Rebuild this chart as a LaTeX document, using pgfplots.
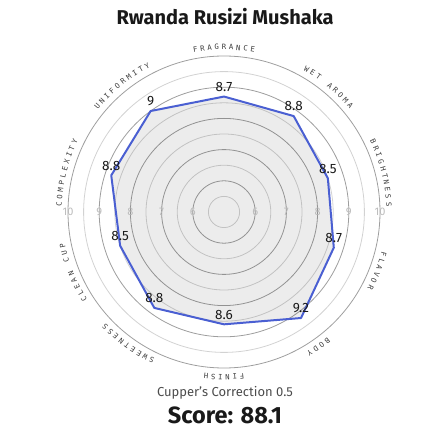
\documentclass[border=0pt]{standalone}
\usepackage{fontspec}
\setmainfont{Fira Sans}
\newfontfamily\monofont{DejaVu Sans Mono}
\usepackage{pgfplots}
\usepackage{pgfplotstable}
\pgfplotsset{compat=1.18}
\usepgfplotslibrary{polar}

\definecolor{lineblue}{HTML}{4A5FD2}
\definecolor{gridmaj}{HTML}{9E9E9E}
\definecolor{gridmin}{HTML}{D2D2D2}
\definecolor{ticklab}{HTML}{BBBBBB}
\definecolor{labcol}{HTML}{3C3C3C}

% angle of each attribute (degrees) and its score
\pgfplotstableread{
angle score
90  8.7
54  8.8
18  8.5
342 8.7
306 9.2
270 8.6
234 8.8
198 8.5
162 8.8
126 9.0
}\cupping

% letters set one by one along the outer ring, clockwise
\newcommand\arclabel[3]{%
  \foreach \ch [count=\i] in {#3}{%
    \pgfmathsetmacro\ang{#1+((#2+1)/2-\i)*2.5}%
    \node[rotate=\ang-90, font=\monofont\fontsize{7.3}{8}\selectfont,
      text=labcol, inner sep=0pt] at (\ang:165pt) {\ch};
  }}

\begin{document}
\begin{tikzpicture}
\path[use as bounding box] (0,0) rectangle (443pt,443pt);
\begin{polaraxis}[
  at={(224pt,231pt)}, anchor=center,
  scale only axis, width=312pt, height=312pt,
  xmin=0, xmax=360, ymin=0, ymax=5,
  xtick=\empty,
  ytick={1,2,3,4,5}, minor ytick={0.5,1.5,2.5,3.5,4.5},
  yticklabels={},
  xmajorgrids=false, ymajorgrids=true, yminorgrids=true,
  major grid style={draw=gridmaj, line width=0.8pt},
  minor grid style={draw=gridmin, line width=0.8pt},
  axis line style={draw=none},
  major tick length=0pt, minor tick length=0pt,
  clip=false,
  /pgf/number format/assume math mode=true,
]
\addplot[draw=lineblue, line width=2pt, line join=round,
  fill=black, fill opacity=0.075, mark=none]
  table[x=angle, y expr=\thisrow{score}-5] {\cupping} -- cycle;
\addplot[draw=none, mark=none, nodes near coords, point meta=explicit,
  every node near coord/.append style={
    font=\fontsize{13.5}{15}\selectfont, text=black!90, anchor=south, yshift=1.5pt}]
  table[x=angle, y expr=\thisrow{score}-5, meta=score] {\cupping};
\end{polaraxis}

\begin{scope}[shift={(224pt,231pt)}]
  \foreach \k/\t in {1/6,2/7,3/8,4/9,5/10}{
    \node[text=ticklab, font=\fontsize{11}{12}\selectfont] at (0:{31.2pt*\k}) {\t};
    \node[text=ticklab, font=\fontsize{11}{12}\selectfont] at (180:{31.2pt*\k}) {\t};
  }
  \arclabel{90}{9}{F,R,A,G,R,A,N,C,E}
  \arclabel{50}{9}{W,E,T,,A,R,O,M,A}
  \arclabel{14}{10}{B,R,I,G,H,T,N,E,S,S}
  \arclabel{-21}{6}{F,L,A,V,O,R}
  \arclabel{-55}{4}{B,O,D,Y}
  \arclabel{-90}{6}{F,I,N,I,S,H}
  \arclabel{-126}{9}{S,W,E,E,T,N,E,S,S}
  \arclabel{-158}{9}{C,L,E,A,N,,C,U,P}
  \arclabel{166}{10}{C,O,M,P,L,E,X,I,T,Y}
  \arclabel{129}{10}{U,N,I,F,O,R,M,I,T,Y}
\end{scope}

\node[font=\fontsize{20}{22}\selectfont\bfseries, text=black!90, anchor=base]
  at (225pt,418pt) {Rwanda Rusizi Mushaka};
\node[font=\fontsize{13}{15}\selectfont, text=black!70, anchor=base]
  at (225pt,46pt) {Cupper's Correction 0.5};
\node[font=\fontsize{23.5}{26}\selectfont\bfseries, text=black!90, anchor=base]
  at (225pt,19pt) {Score: 88.1};
\end{tikzpicture}
\end{document}
